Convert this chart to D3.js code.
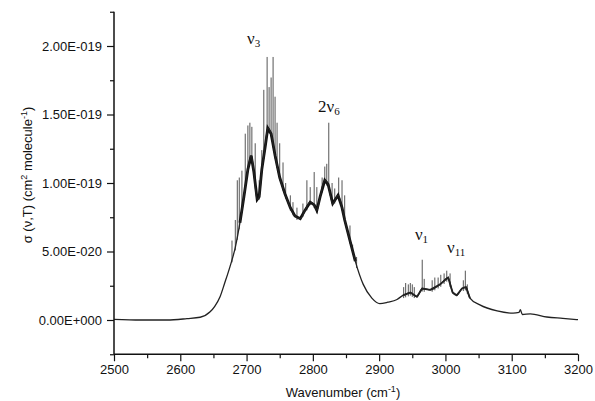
<!DOCTYPE html>
<html><head><meta charset="utf-8">
<script src="https://cdn.jsdelivr.net/npm/d3@7"></script>
<style>
body{margin:0;background:#fff;}
svg{display:block;}
.tick text{font-family:"Liberation Sans",Arial,sans-serif;font-size:13px;fill:#111;}
</style></head>
<body>
<script>
// Envelope of the absorption cross-section (units of 1e-20 cm^2 molecule^-1)
const envWn  = [2500,2540,2580,2610,2630,2645,2652,2660,2667,2675,2683,2690,2696,2702,2707,2711,2716,2719,2723,2728,2732,2737,2743,2750,2758,2766,2773,2781,2788,2796,2802,2806,2811,2818,2823,2830,2838,2844,2848,2856,2864,2876,2889,2901,2913,2927,2936,2947,2957,2965,2977,2992,3004,3011,3017,3025,3031,3037,3052,3078,3102,3111,3113,3116,3128,3153,3177,3200];
const envVal = [0.05,0.0,0.0,0.1,0.2,0.6,1.0,1.7,2.7,3.9,5.3,7.1,9.0,11.0,12.0,10.8,8.8,9.0,11.0,12.6,14.0,13.6,12.0,10.4,9.2,8.2,7.6,7.4,8.0,8.6,8.4,8.0,9.0,10.2,9.9,8.5,9.1,8.2,7.3,5.8,4.3,2.6,1.6,1.2,1.3,1.5,1.8,2.0,1.7,2.3,2.2,2.6,3.1,2.0,1.8,2.3,2.4,1.6,1.1,0.66,0.5,0.55,0.75,0.4,0.45,0.22,0.12,0.02];
// Resolved rotational lines (position, peak height)
const lineWn  = [2678,2683,2686,2689,2693,2698,2702,2705,2708,2713,2719,2723,2726,2731,2734,2737,2740,2743,2746,2750,2755,2759,2766,2770,2776,2785,
                 2791,2796,2802,2806,2814,2818,2821,2824,2829,2833,2839,2844,2848,2856,2860,2866,
                 2937,2940,2944,2947,2950,2953,2965,2968,2980,2984,2989,2993,2998,3002,3007,3027,3030,3033];
const lineVal = [5.8,7.3,10.2,10.4,10.9,13.6,14.2,14.4,14.1,12.9,10.2,12.4,16.8,19.2,17.0,17.7,19.2,16.3,14.4,12.9,11.5,10.0,9.1,8.6,8.2,8.5,
                 10.2,9.7,10.8,9.7,10.4,11.2,11.4,14.4,10.0,9.6,10.4,10.2,9.1,6.9,5.5,4.6,
                 2.4,2.7,2.6,2.7,2.6,2.4,4.4,3.0,2.9,3.1,3.1,3.3,3.4,3.6,3.4,2.9,3.6,2.6];
// Band labels
const bandPre = ["", "2", "", ""];
const bandSub = ["3", "6", "1", "11"];
const bandWn  = [2700.6, 2807.8, 2954, 3002.4];
const bandVal = [20.15, 15.2, 5.84, 4.9];
// Axis ticks
const xTicks = [2500,2600,2700,2800,2900,3000,3100,3200];
const xMinor = [2550,2650,2750,2850,2950,3050,3150];
const yTicks = [0,5,10,15,20];
const yTickLabels = ["0.00E+000","5.00E-020","1.00E-019","1.50E-019","2.00E-019"];
const yMinor = [-2.5,2.5,7.5,12.5,17.5,22.5];

const W=595,H=401;
const svg=d3.select("body").append("svg").attr("width",W).attr("height",H);
const x=d3.scaleLinear().domain([2500,3200]).range([114,578]);
const y=d3.scaleLinear().domain([-2.5,22.5]).range([354.25,11.75]);

const env=envWn.map((w,i)=>({w,v:envVal[i]}));
const envAt=w=>{const i=d3.bisectLeft(envWn,w);if(i<=0)return envVal[0];if(i>=envWn.length)return envVal[envVal.length-1];
  const t=(w-envWn[i-1])/(envWn[i]-envWn[i-1]);return envVal[i-1]+t*(envVal[i]-envVal[i-1]);};

const smooth=d3.line().x(d=>x(d.w)).y(d=>y(d.v)).curve(d3.curveMonotoneX);
const jag=d3.line().x(d=>x(d.w)).y(d=>y(d.v));

// spikes
svg.append("g").selectAll("line").data(lineWn.map((w,i)=>({w,v:lineVal[i]}))).join("line")
  .attr("x1",d=>x(d.w)).attr("x2",d=>x(d.w))
  .attr("y1",d=>y(envAt(d.w))+3).attr("y2",d=>y(d.v))
  .attr("stroke","#555").attr("stroke-width",1);
// dense unresolved band
svg.append("path").datum(env.filter(d=>d.w>=2690&&d.w<=2864)).attr("d",jag)
  .attr("fill","none").attr("stroke","#111").attr("stroke-width",2.8);
svg.append("path").datum(env.filter(d=>d.w>=2936&&d.w<=3037)).attr("d",jag)
  .attr("fill","none").attr("stroke","#222").attr("stroke-width",1.8);
svg.append("path").datum(env).attr("d",smooth)
  .attr("fill","none").attr("stroke","#222").attr("stroke-width",1.3);

// axes
const xa=svg.append("g").attr("transform","translate(0,354.25)")
  .call(d3.axisBottom(x).tickValues(xTicks).tickFormat(d3.format("d")).tickSize(7).tickPadding(4));
svg.append("g").attr("transform","translate(0,354.25)")
  .call(d3.axisBottom(x).tickValues(xMinor).tickFormat("").tickSize(4)).select(".domain").remove();
const ya=svg.append("g").attr("transform","translate(114,0)")
  .call(d3.axisLeft(y).tickValues(yTicks).tickFormat((d,i)=>yTickLabels[i]).tickSize(7).tickPadding(5));
svg.append("g").attr("transform","translate(114,0)")
  .call(d3.axisLeft(y).tickValues(yMinor).tickFormat("").tickSize(4)).select(".domain").remove();
svg.selectAll(".domain").attr("stroke","#111").attr("stroke-width",1.5);
xa.select(".domain").attr("d","M114,0H578");
ya.select(".domain").attr("d","M0,11.75V354.25");
svg.selectAll(".tick line").attr("stroke","#111").attr("stroke-width",1.2);

// axis titles
const tx=svg.append("text").attr("x",343).attr("y",397).attr("text-anchor","middle")
  .attr("font-family","Liberation Sans,Arial,sans-serif").attr("font-size",13).attr("fill","#111");
tx.append("tspan").text("Wavenumber (cm");
tx.append("tspan").attr("font-size",9).attr("dy",-5).text("-1");
tx.append("tspan").attr("dy",5).text(")");

const ty=svg.append("text").attr("transform","translate(32,175) rotate(-90)").attr("text-anchor","middle")
  .attr("font-family","Liberation Sans,Arial,sans-serif").attr("font-size",13).attr("fill","#111");
ty.append("tspan").text("σ (ν,T) (cm");
ty.append("tspan").attr("font-size",9).attr("dy",-5).text("2");
ty.append("tspan").attr("dy",5).text(" molecule");
ty.append("tspan").attr("font-size",9).attr("dy",-5).text("-1");
ty.append("tspan").attr("dy",5).text(")");

// band labels
bandSub.forEach((s,i)=>{
  const t=svg.append("text").attr("x",x(bandWn[i])).attr("y",y(bandVal[i]))
    .attr("font-family","Liberation Serif,DejaVu Serif,serif").attr("font-size",17).attr("fill","#111");
  t.append("tspan").text(bandPre[i]+"ν");
  t.append("tspan").attr("font-size",11).attr("dy",3).text(s);
});
</script>
</body></html>
